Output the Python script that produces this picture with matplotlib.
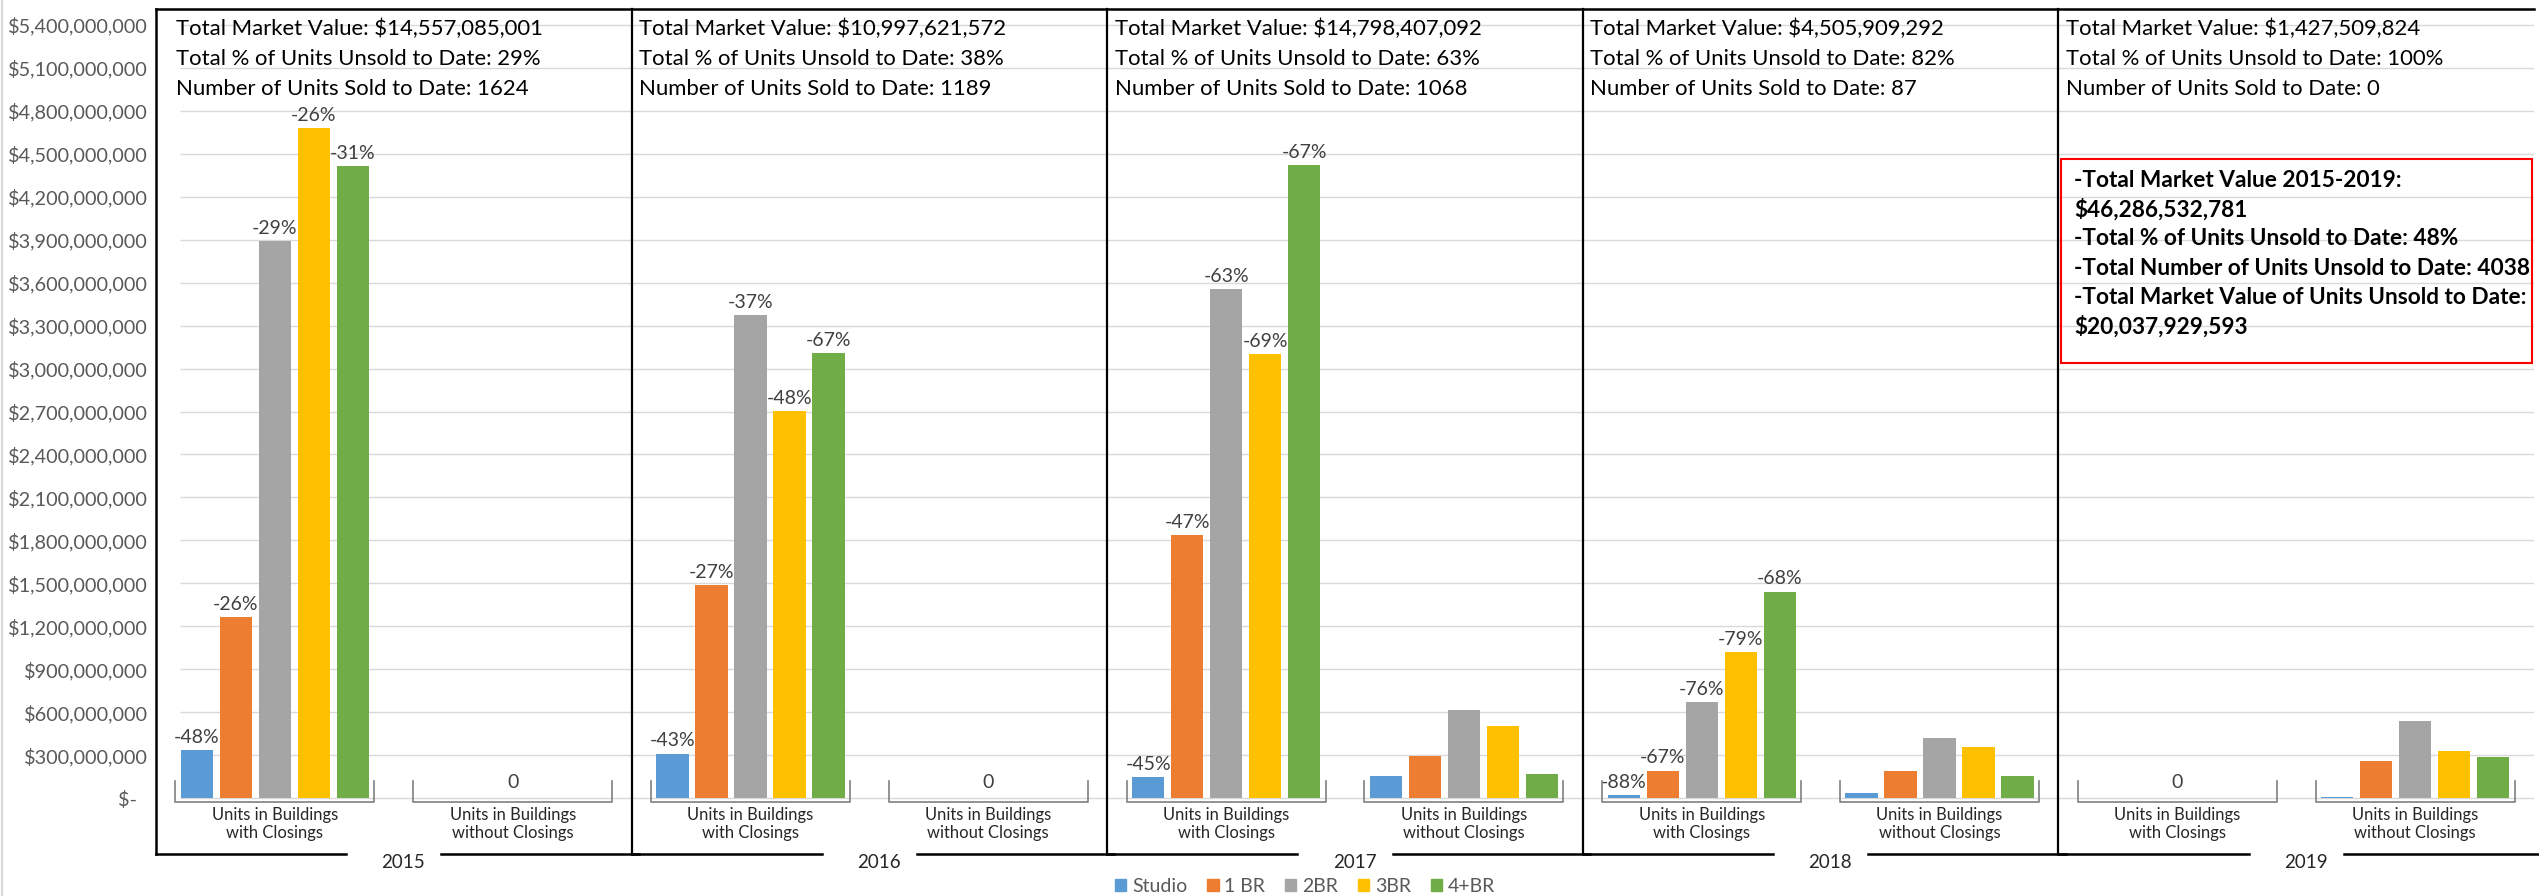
import numpy as np
import matplotlib.pyplot as plt
from matplotlib.lines import Line2D
from matplotlib.patches import Rectangle

plt.rcParams['font.family'] = ['Lato', 'DejaVu Sans']

# categories
years = ['2015', '2016', '2017', '2018', '2019']
group_names = ['Units in Buildings\nwith Closings', 'Units in Buildings\nwithout Closings']
unit_types = ['Studio', '1 BR', '2BR', '3BR', '4+BR']
colors = ['#5B9BD5', '#ED7D31', '#A5A5A5', '#FFC000', '#70AD47']

# market value ($ billions), order: 2015 with, 2015 without, 2016 with, ...
studio = [0.333, 0, 0.310, 0, 0.148, 0.155, 0.019, 0.037, 0, 0.010]
one_br = [1.262, 0, 1.486, 0, 1.839, 0.292, 0.192, 0.192, 0, 0.259]
two_br = [3.891, 0, 3.375, 0, 3.556, 0.613, 0.671, 0.417, 0, 0.539]
three_br = [4.678, 0, 2.705, 0, 3.100, 0.505, 1.019, 0.354, 0, 0.329]
four_br = [4.417, 0, 3.108, 0, 4.422, 0.169, 1.442, 0.155, 0, 0.285]

# price change labels on bars
chg_studio = ['-48%', '', '-43%', '', '-45%', '', '-88%', '', '', '']
chg_one = ['-26%', '', '-27%', '', '-47%', '', '-67%', '', '', '']
chg_two = ['-29%', '', '-37%', '', '-63%', '', '-76%', '', '', '']
chg_three = ['-26%', '', '-48%', '', '-69%', '', '-79%', '', '', '']
chg_four = ['-31%', '', '-67%', '', '-67%', '', '-68%', '', '', '']

# per-year summary
total_value = ['$14,557,085,001', '$10,997,621,572', '$14,798,407,092', '$4,505,909,292', '$1,427,509,824']
pct_unsold = ['29%', '38%', '63%', '82%', '100%']
units_sold = [1624, 1189, 1068, 87, 0]

summary_lines = [
    '-Total Market Value 2015-2019:',
    '$46,286,532,781',
    '-Total % of Units Unsold to Date: 48%',
    '-Total Number of Units Unsold to Date: 4038',
    '-Total Market Value of Units Unsold to Date:',
    '$20,037,929,593',
]

series = [studio, one_br, two_br, three_br, four_br]
labels = [chg_studio, chg_one, chg_two, chg_three, chg_four]

W, H = 2539, 896
fig = plt.figure(figsize=(W / 100, H / 100), dpi=100)
ax = fig.add_axes([156 / W, 42 / H, (2534 - 156) / W, 845 / H])
ybot, ytop = -0.391e9, 5.512e9
ax.set_xlim(0, 10)
ax.set_ylim(ybot, ytop)
for s in ax.spines.values():
    s.set_visible(False)

# gridlines and y axis
ticks = np.arange(0, 5.4e9 + 1, 3e8)
ax.hlines(ticks, 0.1, 10, color='#D9D9D9', lw=1.0, zorder=0)
ax.set_yticks(ticks)
ax.set_yticklabels(['$-  ' if t == 0 else '${:,.0f}'.format(t) for t in ticks])
ax.tick_params(axis='y', length=0, pad=6, labelsize=14.3, labelcolor='#595959')
ax.set_xticks([])

# bars
centers = np.arange(10) + 0.5
pitch, bw = 0.164, 0.1346
for j, (vals, lbls) in enumerate(zip(series, labels)):
    x = centers + (j - 2) * pitch
    v = np.array(vals) * 1e9
    ax.bar(x, v, width=bw, color=colors[j], zorder=3, label=unit_types[j])
    for xi, vi, lb in zip(x, v, lbls):
        if lb:
            ax.annotate(lb, (xi, vi), xytext=(0, 3), textcoords='offset points',
                        ha='center', va='bottom', fontsize=14, color='#404040')

# zero labels, brackets and category labels
totals = np.sum(series, axis=0)
for i, c in enumerate(centers):
    if totals[i] == 0:
        ax.annotate('0', (c, 0), xytext=(0, 5), textcoords='offset points',
                    ha='center', va='bottom', fontsize=14, color='#404040')
    hw = 0.418
    ax.plot([c - hw, c - hw, c + hw, c + hw], [0.118e9, -0.03e9, -0.03e9, 0.118e9],
            color='#7F7F7F', lw=1.2, clip_on=False, zorder=4)
    ax.text(c, -0.181e9, group_names[i % 2], ha='center', va='center',
            fontsize=11.9, linespacing=1.15, color='#262626')

# panel frame
ax.axhline(ytop, color='black', lw=1.8, clip_on=False)
for k in range(5):
    ax.axvline(2 * k, color='black', lw=1.6 if k else 1.8, clip_on=False)
    mid = 2 * k + 1
    ax.plot([2 * k, mid - 0.2], [ybot, ybot], color='black', lw=1.8, clip_on=False)
    ax.plot([mid + 0.2, 2 * k + 2.03], [ybot, ybot], color='black', lw=1.8, clip_on=False)
    ax.text(mid + 0.04, -0.447e9, years[k], ha='center', va='center', fontsize=13.5,
            color='#262626')
    x0 = 2 * k + (0.084 if k == 0 else 0.032)
    txt = ['Total Market Value: ' + total_value[k],
           'Total % of Units Unsold to Date: ' + pct_unsold[k],
           'Number of Units Sold to Date: ' + str(units_sold[k])]
    for n, t in enumerate(txt):
        ax.text(x0, 5.373e9 - n * 0.209e9, t, ha='left', va='center', fontsize=15.9,
                color='black')

# summary box
ax.add_patch(Rectangle((8.011, 3.036e9), 9.99 - 8.011, 4.466e9 - 3.036e9, fill=False,
                       ec='#FF0000', lw=1.5, zorder=5))
for n, t in enumerate(summary_lines):
    ax.text(8.066, 4.313e9 - n * 0.2038e9, t, ha='left', va='center', fontsize=16.3,
            fontweight='bold', color='black', zorder=6)

handles = [Rectangle((0, 0), 1, 1, color=c) for c in colors]
fig.legend(handles, unit_types, loc='center', bbox_to_anchor=(0.514, 0.011), ncol=5,
           frameon=False, fontsize=14, labelcolor='#595959', handlelength=0.6,
           handleheight=0.6, handletextpad=0.3, columnspacing=1.0)

fig.add_artist(Line2D([0.0008, 0.0008], [0, 1], transform=fig.transFigure,
                      color='#D9D9D9', lw=1.5))

fig.savefig('out.png', dpi=100)
